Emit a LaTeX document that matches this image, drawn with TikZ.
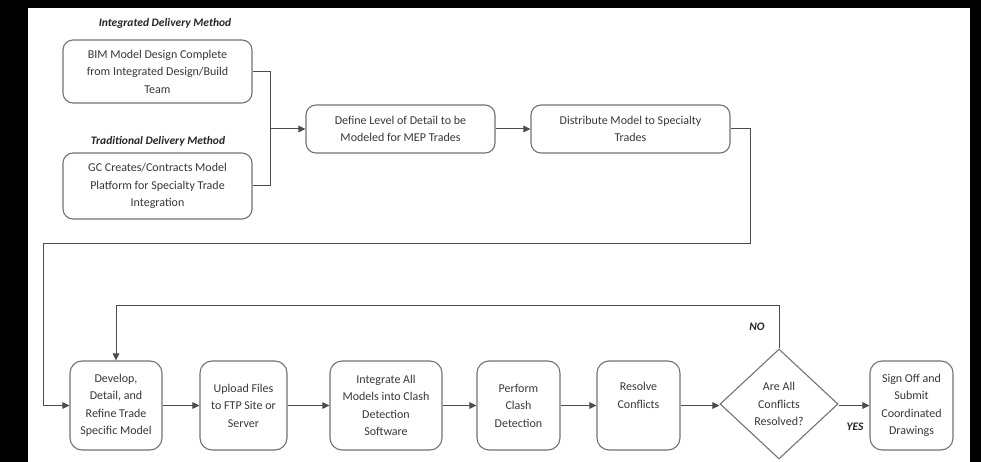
\documentclass[tikz,border=0pt]{standalone}
\usepackage{fontspec}
\setmainfont{Carlito}
\usetikzlibrary{shapes.geometric,arrows.meta}
\begin{document}
\begin{tikzpicture}[x=1pt,y=-1pt,
  box/.style={draw=black!55, line width=1.1pt, rounded corners=10pt, align=center,
    font=\fontsize{12}{17.5}\selectfont, text=black!78, inner sep=0pt, fill=white},
  dec/.style={draw=black!55, line width=1.1pt, diamond, aspect=1.07, align=center,
    font=\fontsize{12}{17.5}\selectfont, text=black!78, inner sep=0pt,
    minimum width=118pt, minimum height=110pt},
  lbl/.style={font=\fontsize{11.5}{13}\selectfont\bfseries\itshape, text=black!85, inner sep=0pt},
  conn/.style={draw=black!70, line width=1pt},
  arr/.style={conn, -{Triangle[length=7pt,width=6.5pt]}}]
\useasboundingbox (0,0) rectangle (981,462);
\fill[black] (0,0) rectangle (981,462);
\fill[white] (28,8) rectangle (970,462);
% labels
\node[lbl] (l1) at (165,23) {Integrated Delivery Method};
\node[lbl] (l2) at (158,141) {Traditional Delivery Method};
% top boxes
\node[box, minimum width=189pt, minimum height=63pt] (b1) at (157.5,71.5)
  {BIM Model Design Complete\\ from Integrated Design/Build\\ Team};
\node[box, minimum width=189pt, minimum height=66pt] (b2) at (157.5,186)
  {GC Creates/Contracts Model\\ Platform for Specialty Trade\\ Integration};
\node[box, minimum width=189pt, minimum height=48pt] (b3) at (400.5,129)
  {Define Level of Detail to be\\ Modeled for MEP Trades};
\node[box, minimum width=199pt, minimum height=48pt] (b4) at (630.5,129)
  {Distribute Model to Specialty\\ Trades};
% bottom row
\node[box, rounded corners=12pt, minimum width=92pt, minimum height=89pt] (b5) at (116,405.5)
  {Develop,\\ Detail, and\\ Refine Trade\\ Specific Model};
\node[box, rounded corners=12pt, minimum width=87pt, minimum height=89pt] (b6) at (243.5,405.5)
  {Upload Files\\ to FTP Site or\\ Server};
\node[box, rounded corners=12pt, minimum width=112pt, minimum height=89pt] (b7) at (386,405.5)
  {Integrate All\\ Models into Clash\\ Detection\\ Software};
\node[box, rounded corners=12pt, minimum width=83pt, minimum height=89pt] (b8) at (518.5,405.5)
  {Perform\\ Clash\\ Detection};
\node[box, rounded corners=12pt, minimum width=83pt, minimum height=89pt] (b9) at (638.5,405.5)
  {Resolve\\ Conflicts\\[3pt]};
\node[dec] (d) at (779,404) {Are All\\ Conflicts\\ Resolved?};
\node[box, rounded corners=12pt, minimum width=83pt, minimum height=89pt] (b10) at (911.5,405.5)
  {Sign Off and\\ Submit\\ Coordinated\\ Drawings};
\node[lbl] (no) at (757,327) {NO};
\node[lbl] (yes) at (855,427) {YES};
% connectors
\coordinate (j) at (270,129);
\draw[conn] (b1.east) -| (j);
\draw[conn] (b2.east) -| (j);
\draw[arr] (j) -- (b3.west);
\draw[arr] (b3) -- (b4);
\coordinate (c1) at (750,243);
\coordinate (c2) at (43,243);
\draw[arr] (b4.east) -| (c1) -- (c2) |- (b5.west);
\draw[arr] (b5) -- (b6);
\draw[arr] (b6) -- (b7);
\draw[arr] (b7) -- (b8);
\draw[arr] (b8) -- (b9);
\draw[arr] (b9.east) -- (d.west |- b9.east);
\draw[arr] (d.east |- b10.west) -- (b10.west);
\coordinate (c3) at (779,305);
\draw[arr] (d.north) -- (c3) -| (b5.north);
\end{tikzpicture}
\end{document}
